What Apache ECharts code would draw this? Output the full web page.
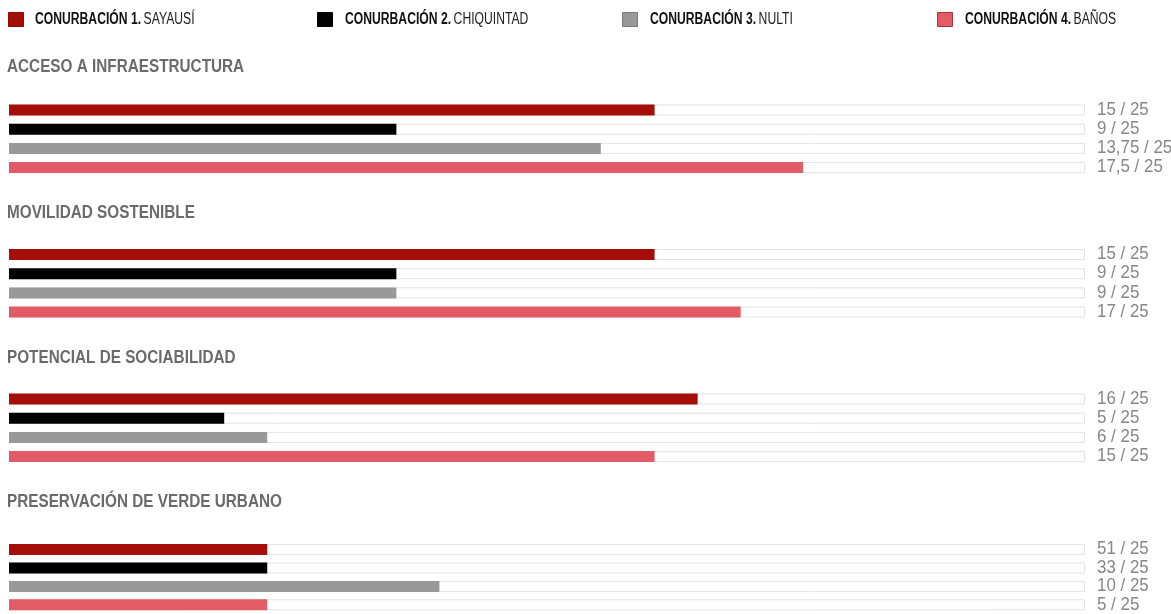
<!DOCTYPE html>
<html>
<head>
<meta charset="utf-8">
<script src="https://cdn.jsdelivr.net/npm/echarts@6/dist/echarts.min.js"></script>
<style>
html,body{margin:0;padding:0;background:#fff;}
#chart{width:1171px;height:614px;}
</style>
</head>
<body>
<div id="chart"></div>
<script>
// ---- data ----
const sections = ['ACCESO A INFRAESTRUCTURA', 'MOVILIDAD SOSTENIBLE', 'POTENCIAL DE SOCIABILIDAD', 'PRESERVACIÓN DE VERDE URBANO'];
const prefixes = ['CONURBACIÓN 1.', 'CONURBACIÓN 2.', 'CONURBACIÓN 3.', 'CONURBACIÓN 4.'];
const places = ['SAYAUSÍ', 'CHIQUINTAD', 'NULTI', 'BAÑOS'];
const scoreMax = 25;
// bar lengths as drawn, per section
const sayausi = [15, 15, 16, 6];
const chiquintad = [9, 9, 5, 6];
const nulti = [13.75, 9, 6, 10];
const banos = [18.45, 17, 15, 6];
// printed score labels, per section
const sayausiLabels = ['15 / 25', '15 / 25', '16 / 25', '51 / 25'];
const chiquintadLabels = ['9 / 25', '9 / 25', '5 / 25', '33 / 25'];
const nultiLabels = ['13,75 / 25', '9 / 25', '6 / 25', '10 / 25'];
const banosLabels = ['17,5 / 25', '17 / 25', '15 / 25', '5 / 25'];

const values = [sayausi, chiquintad, nulti, banos];
const labels = [sayausiLabels, chiquintadLabels, nultiLabels, banosLabels];
const colors = ['#a50d08', '#000000', '#999999', '#e15c66'];
const borderColors = ['#8a0b06', '#000000', '#7a7a7a', '#a8333c'];

const FONT = '"Liberation Sans", Arial, sans-serif';
const names = prefixes.map((p, i) => p + ' ' + places[i]);

// ---- layout ----
const rowH = 19.2;
const firstBarCenters = [110, 254.5, 399, 550];
const titleCenters = [67.5, 213.5, 358.5, 502.5];
const legendLefts = [8, 317, 622, 937];
const legendTextX = [35, 345, 650, 965];

const grids = [], xAxes = [], yAxes = [], series = [], graphics = [];
sections.forEach((sec, g) => {
  grids.push({left: 9, right: 86, top: firstBarCenters[g] - rowH / 2, height: rowH * 4, containLabel: false});
  xAxes.push({type: 'value', gridIndex: g, min: 0, max: scoreMax, show: false});
  yAxes.push({type: 'category', gridIndex: g, inverse: true, show: false, data: names});
  series.push({
    type: 'bar', name: '_track' + g, xAxisIndex: g, yAxisIndex: g,
    barWidth: 11, barGap: '-100%', z: 1, silent: true,
    itemStyle: {color: '#ffffff', borderColor: '#e3e3e3', borderWidth: 1},
    data: names.map(() => scoreMax)
  });
  values.forEach((arr, c) => {
    series.push({
      type: 'bar', name: names[c], xAxisIndex: g, yAxisIndex: g,
      barWidth: 11, barGap: '-100%', z: 2,
      itemStyle: {color: colors[c]},
      data: names.map((n, r) => r === c ? arr[g] : '-')
    });
  });
  // score labels, placed through the axes at the end of each track
  series.push({
    type: 'custom', name: '_labels' + g, xAxisIndex: g, yAxisIndex: g, z: 3, silent: true,
    encode: {x: 0, y: 1},
    data: names.map((n, r) => [scoreMax, r]),
    renderItem: (params, api) => {
      const r = params.dataIndex;
      const p = api.coord([api.value(0), r]);
      return {
        type: 'text', x: p[0] + 12, y: p[1] - 0.5, scaleX: 0.89,
        style: {text: labels[r][g], font: '19px ' + FONT, fill: '#878787', align: 'left', verticalAlign: 'middle'}
      };
    }
  });
  graphics.push({
    type: 'text', x: 7, y: titleCenters[g], scaleX: 0.85,
    style: {text: sec, font: 'bold 18px ' + FONT, fill: '#6b6b6b', align: 'left', verticalAlign: 'middle'}
  });
});

names.forEach((n, i) => {
  graphics.push({
    type: 'text', x: legendTextX[i], y: 19.5, scaleX: 0.76,
    style: {
      text: '{b|' + prefixes[i] + '} {r|' + places[i] + '}',
      align: 'left', verticalAlign: 'middle',
      rich: {
        b: {fontFamily: FONT, fontWeight: 'bold', fontSize: 16, fill: '#111'},
        r: {fontFamily: FONT, fontSize: 16, fill: '#222'}
      }
    }
  });
});

const legends = names.map((n, i) => ({
  data: [n], left: legendLefts[i], top: 12, padding: 0,
  itemWidth: 15, itemHeight: 14, icon: 'rect',
  itemStyle: {borderColor: borderColors[i], borderWidth: 1},
  formatter: () => '',
  textStyle: {fontSize: 1}
}));

const chart = echarts.init(document.getElementById('chart'), null, {renderer: 'canvas'});
chart.setOption({
  backgroundColor: '#ffffff',
  animation: false,
  legend: legends,
  grid: grids,
  xAxis: xAxes,
  yAxis: yAxes,
  series: series,
  graphic: graphics
});
</script>
</body>
</html>
